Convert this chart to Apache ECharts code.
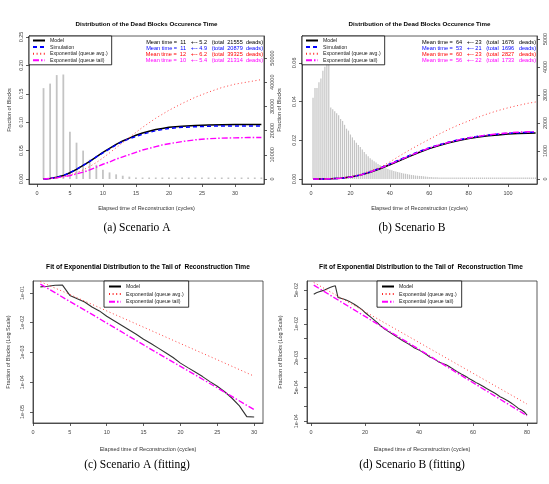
<!DOCTYPE html>
<html>
<head>
<meta charset="utf-8">
<script src="https://cdn.jsdelivr.net/npm/echarts@6/dist/echarts.min.js"></script>
<style>
html, body { margin: 0; padding: 0; background: #fff; }
#main { width: 549px; height: 484px; }
</style>
</head>
<body>
<div id="main"></div>
<script>
// ---- scenario A : model distribution (cycles 1..34)
const pmfA = [0.160, 0.168, 0.183, 0.184, 0.083, 0.064, 0.050, 0.034, 0.025, 0.0165,
  0.0116, 0.0082, 0.0058, 0.0041, 0.0028, 0.0020, 0.0014, 0.00098, 0.00068, 0.00044,
  0.00031, 0.00022, 0.000155, 0.000105, 0.000073, 0.000048, 0.000029, 0.000016, 0.000007, 0.0000068,
  0.000005, 0.000004, 0.000003, 0.000002];

// scenario A cumulative-like curves
const xA = [1, 2, 3, 4, 5, 6, 7, 8, 9, 10, 11, 12, 13, 14, 15, 16, 17, 18, 19, 20, 22, 24, 26, 28, 30, 32, 34];
const modelA = [0, 0.001, 0.003, 0.006, 0.011, 0.017, 0.024, 0.031, 0.039, 0.047, 0.054, 0.061, 0.067, 0.072, 0.077, 0.081, 0.084, 0.087, 0.089, 0.091, 0.093, 0.094, 0.095, 0.0955, 0.0958, 0.096, 0.096];
const simA = [0, 0.001, 0.003, 0.006, 0.011, 0.017, 0.024, 0.031, 0.039, 0.046, 0.053, 0.060, 0.066, 0.071, 0.075, 0.079, 0.082, 0.085, 0.087, 0.089, 0.091, 0.092, 0.093, 0.0933, 0.0935, 0.0935, 0.0935];
const avgA = [0, 0.001, 0.002, 0.004, 0.007, 0.011, 0.016, 0.022, 0.029, 0.037, 0.046, 0.055, 0.064, 0.073, 0.082, 0.091, 0.099, 0.107, 0.114, 0.121, 0.133, 0.144, 0.153, 0.161, 0.167, 0.171, 0.175];
const tailA = [0, 0.001, 0.002, 0.004, 0.006, 0.009, 0.012, 0.016, 0.021, 0.026, 0.030, 0.035, 0.039, 0.043, 0.047, 0.051, 0.054, 0.057, 0.060, 0.062, 0.066, 0.069, 0.071, 0.072, 0.0725, 0.073, 0.073];

// ---- scenario B : histogram (cycles 1..114)
const histB = [0.042, 0.047, 0.047, 0.050, 0.052, 0.056, 0.058, 0.060, 0.063, 0.037,
  0.036, 0.035, 0.034, 0.033, 0.031, 0.030, 0.028, 0.026, 0.025, 0.023,
  0.0215, 0.020, 0.0188, 0.0176, 0.0165, 0.0152, 0.014, 0.0128, 0.0117, 0.0107,
  0.0099, 0.0092, 0.0085, 0.0078, 0.0072, 0.0066, 0.0061, 0.0056, 0.0052, 0.0048,
  0.0045, 0.0042, 0.0039, 0.0036, 0.0034, 0.0031, 0.0029, 0.0027, 0.0025, 0.0023,
  0.0021, 0.0020, 0.0018, 0.0017, 0.0016, 0.0015, 0.0014, 0.0013, 0.0012, 0.0011,
  0.0010, 0.00095, 0.0009, 0.00085, 0.0008, 0.00075, 0.0007, 0.00065, 0.0006, 0.00056,
  0.00052, 0.00049, 0.00046, 0.00043, 0.0004, 0.00037, 0.00035, 0.00033, 0.00031, 0.00029,
  0.00027, 0.00025, 0.00024, 0.00022, 0.00021, 0.0002, 0.00019, 0.00018, 0.00017, 0.00016,
  0.00015, 0.00014, 0.00013, 0.00013, 0.00012, 0.00011, 0.00011, 0.0001, 0.0001, 0.00009,
  0.00009, 0.00008, 0.00008, 0.00007, 0.00007, 0.00007, 0.00006, 0.00006, 0.00006, 0.00005,
  0.00005, 0.00005, 0.00004, 0.00004];

const xB = [1, 5, 10, 15, 20, 25, 30, 35, 40, 45, 50, 55, 60, 65, 70, 75, 80, 85, 90, 95, 100, 105, 110, 114];
const modelB = [0, 0, 0.0001, 0.0004, 0.001, 0.002, 0.0035, 0.0053, 0.0074, 0.0095, 0.0117, 0.0138, 0.0157, 0.0173, 0.0187, 0.0199, 0.0209, 0.0217, 0.0223, 0.0228, 0.0232, 0.0235, 0.0237, 0.0238];
const simB = [0, 0, 0.0001, 0.0004, 0.001, 0.0021, 0.0037, 0.0056, 0.0078, 0.0100, 0.0122, 0.0143, 0.0161, 0.0177, 0.0191, 0.0203, 0.0213, 0.0221, 0.0227, 0.0232, 0.0236, 0.0239, 0.0241, 0.0242];
const avgB = [0, 0, 0.0001, 0.0005, 0.0012, 0.0024, 0.0042, 0.006, 0.0088, 0.012, 0.015, 0.0178, 0.0205, 0.0232, 0.0257, 0.028, 0.030, 0.032, 0.0338, 0.0354, 0.0368, 0.038, 0.0391, 0.0398];
const tailB = [0, 0, 0.0001, 0.0004, 0.001, 0.002, 0.0036, 0.0055, 0.0076, 0.0098, 0.0120, 0.0141, 0.0160, 0.0176, 0.0190, 0.0202, 0.0212, 0.0221, 0.0228, 0.0234, 0.0238, 0.0242, 0.0244, 0.0245];

// ---- fitting panels
const xC = [1, 5, 10, 15, 20, 25, 30];
const avgC = [0.24, 0.089, 0.025, 0.0071, 0.002, 0.00057, 0.00016];
const tailC = [0.2, 0.052, 0.0098, 0.0018, 0.00034, 0.000065, 0.000012];

const pmfB = [0.041, 0.044, 0.046, 0.048, 0.050, 0.053, 0.056, 0.059, 0.061, 0.035,
  0.0340, 0.0325, 0.031, 0.0295, 0.0275, 0.0255, 0.0235, 0.0215, 0.0195, 0.0172,
  0.0155, 0.0140, 0.0126, 0.0113, 0.0101, 0.0090, 0.0081, 0.0074, 0.0068, 0.0063,
  0.0058, 0.0053, 0.0049, 0.0045, 0.0042, 0.0039, 0.0036, 0.0033, 0.0031, 0.0029,
  0.0027, 0.0025, 0.0023, 0.0021, 0.0020, 0.00185, 0.0017, 0.0016, 0.00152, 0.00145,
  0.00135, 0.00125, 0.00115, 0.00106, 0.00098, 0.00091, 0.00085, 0.00079, 0.00073, 0.00068,
  0.00063, 0.00059, 0.00055, 0.00051, 0.00047, 0.00044, 0.00041, 0.00038, 0.00035, 0.00032,
  0.0003, 0.00028, 0.00026, 0.00024, 0.00022, 0.0002, 0.00018, 0.00017, 0.000155, 0.000134];
const xD = [1, 20, 40, 60, 80];
const avgD = [0.0716, 0.0179, 0.00417, 0.00097, 0.000226];
const tailD = [0.063, 0.0143, 0.003, 0.00062, 0.00013];

const legendNames = ['Model', 'Simulation', 'Exponential (queue avg.)', 'Exponential (queue tail)'];
const statsA = [
  ['Mean time =  11   +-- 5.2   (total  21555  deads)', '#000000'],
  ['Mean time =  11   +-- 4.9   (total  20879  deads)', '#0000ff'],
  ['Mean time =  12   +-- 6.2   (total  39325  deads)', '#ff0000'],
  ['Mean time =  10   +-- 5.4   (total  21314  deads)', '#ff00ff']
];
const statsB = [
  ['Mean time =  64   +-- 23   (total  1676   deads)', '#000000'],
  ['Mean time =  53   +-- 21   (total  1696   deads)', '#0000ff'],
  ['Mean time =  60   +-- 23   (total  2827   deads)', '#ff0000'],
  ['Mean time =  56   +-- 22   (total  1733   deads)', '#ff00ff']
];

const FONT = '"Liberation Sans", Arial, sans-serif';
const XNAME = 'Elapsed time of Reconstruction (cycles)';

const sty = {
  model: { color: '#000', width: 1.5, type: 'solid' },
  sim: { color: '#0000ff', width: 1.5, type: [4, 3] },
  avg: { color: '#ff2a2a', width: 0.9, type: [1, 2.6] },
  tail: { color: '#ff00ff', width: 1.4, type: [6, 2, 1.5, 2] },
  modelLog: { color: '#333', width: 1.1, type: 'solid' }
};

function sci(v) {
  let e = Math.floor(Math.log10(v) + 1e-9);
  let m = Math.round(v / Math.pow(10, e));
  if (m >= 10) { m = 1; e += 1; }
  const a = Math.abs(e);
  return m + 'e' + (e < 0 ? '-' : '+') + (a < 10 ? '0' : '') + a;
}

function mkAxis(o) {
  return {
    type: o.type || 'value',
    gridIndex: o.grid,
    position: o.position,
    min: o.min,
    max: o.max,
    logBase: 10,
    name: o.name || '',
    nameLocation: 'middle',
    nameGap: o.nameGap || 20,
    nameTextStyle: { fontSize: 5.5, color: '#333', fontFamily: FONT },
    axisLine: { show: true, onZero: false, lineStyle: { color: '#333', width: 0.8 } },
    axisTick: { show: true, length: 3, customValues: o.ticks, lineStyle: { color: '#333', width: 0.8 } },
    axisLabel: {
      show: true, customValues: o.labels || o.ticks, rotate: o.rotate || 0, margin: o.margin || 6,
      formatter: o.fmt, fontSize: 5.5, color: '#444', fontFamily: FONT
    },
    splitLine: { show: false },
    minorTick: { show: false }
  };
}

function line(name, xs, ys, xi, yi, ls) {
  return {
    type: 'line', name: name, xAxisIndex: xi, yAxisIndex: yi,
    data: xs.map((x, i) => [x, ys[i]]),
    symbol: 'none', showSymbol: false, z: 3,
    lineStyle: ls, itemStyle: { color: ls.color }
  };
}

function bars(vals, xi, yi, w) {
  return {
    type: 'bar', name: 'hist', xAxisIndex: xi, yAxisIndex: yi,
    data: vals.map((v, i) => [i + 1, v]),
    barWidth: w, barMinHeight: 1.5, z: 1, silent: true,
    itemStyle: { color: '#c4c4c4' }
  };
}

function legendAt(left, top, names, pad, gap) {
  return {
    left: left, top: top, orient: 'vertical', data: names,
    backgroundColor: '#fff', borderColor: '#000', borderWidth: 0.8,
    padding: pad, itemGap: gap, itemWidth: 12, itemHeight: 6,
    itemStyle: { opacity: 0 },
    textStyle: { fontSize: 5.2, color: '#222', fontFamily: FONT },
    selectedMode: false
  };
}

function txt(x, y, s, font, fill, align) {
  return {
    type: 'text', x: x, y: y, silent: true,
    style: { text: s, font: font, fill: fill || '#000', textAlign: align || 'center', textVerticalAlign: 'middle' }
  };
}

const graphics = [];
graphics.push(txt(146.5, 24, 'Distribution of the Dead Blocks Occurence Time', 'bold 6.2px ' + FONT));
graphics.push(txt(419.5, 24, 'Distribution of the Dead Blocks Occurence Time', 'bold 6.2px ' + FONT));
graphics.push(txt(148, 267, 'Fit of Exponential Distribution to the Tail of  Reconstruction Time', 'bold 6.6px ' + FONT));
graphics.push(txt(421, 267, 'Fit of Exponential Distribution to the Tail of  Reconstruction Time', 'bold 6.6px ' + FONT));
const CFONT = '11.5px "Liberation Serif", "Times New Roman", serif';
graphics.push(txt(137, 228, '(a) Scenario A', CFONT));
graphics.push(txt(412, 228, '(b) Scenario B', CFONT));
graphics.push(txt(137, 465, '(c) Scenario A (fitting)', CFONT));
graphics.push(txt(412, 465, '(d) Scenario B (fitting)', CFONT));
statsA.forEach((r, i) => graphics.push(txt(263, 42 + i * 6.2, r[0], '5.6px ' + FONT, r[1], 'right')));
statsB.forEach((r, i) => graphics.push(txt(536, 42 + i * 6.2, r[0], '5.6px ' + FONT, r[1], 'right')));

const option = {
  animation: false,
  backgroundColor: '#fff',
  grid: [
    { left: 29, top: 36, width: 235, height: 148 },
    { left: 302, top: 36, width: 235, height: 148 },
    { left: 33, top: 281, width: 230, height: 142 },
    { left: 307, top: 281, width: 230, height: 142 }
  ].map(g => Object.assign(g, { show: true, borderColor: '#333', borderWidth: 0.8, backgroundColor: 'transparent' })),
  xAxis: [
    mkAxis({ grid: 0, min: -1.2, max: 34.4, ticks: [0, 5, 10, 15, 20, 25, 30], name: XNAME, nameGap: 21 }),
    mkAxis({ grid: 1, min: -4.6, max: 114.7, ticks: [0, 20, 40, 60, 80, 100], name: XNAME, nameGap: 21 }),
    mkAxis({ grid: 2, min: 0, max: 31.2, ticks: [0, 5, 10, 15, 20, 25, 30], name: XNAME, nameGap: 23 }),
    mkAxis({ grid: 3, min: -1.5, max: 83.7, ticks: [0, 20, 40, 60, 80], name: XNAME, nameGap: 23 })
  ],
  yAxis: [
    mkAxis({ grid: 0, position: 'left', min: -0.0088, max: 0.2518, ticks: [0, 0.05, 0.1, 0.15, 0.2, 0.25],
      rotate: 90, margin: 5, fmt: v => v.toFixed(2), name: 'Fraction of Blocks', nameGap: 17 }),
    mkAxis({ grid: 0, position: 'right', min: -2066, max: 59090, ticks: [0, 10000, 20000, 30000, 40000, 50000],
      rotate: 90, margin: 5, fmt: v => String(v) }),
    mkAxis({ grid: 1, position: 'left', min: -0.00258, max: 0.0739, ticks: [0, 0.02, 0.04, 0.06],
      rotate: 90, margin: 5, fmt: v => v.toFixed(2), name: 'Fraction of Blocks', nameGap: 20 }),
    mkAxis({ grid: 1, position: 'right', min: -179, max: 5107, ticks: [0, 1000, 2000, 3000, 4000, 5000],
      rotate: 90, margin: 5, fmt: v => String(v) }),
    mkAxis({ grid: 2, type: 'log', position: 'left', min: 4.27e-6, max: 0.253, ticks: [1e-5, 1e-4, 1e-3, 1e-2, 1e-1],
      rotate: 90, margin: 8, fmt: sci, name: 'Fraction of Blocks (Log Scale)', nameGap: 22 }),
    mkAxis({ grid: 3, type: 'log', position: 'left', min: 9.2e-5, max: 0.0766,
      ticks: [1e-4, 2e-4, 5e-4, 1e-3, 2e-3, 5e-3, 1e-2, 2e-2, 5e-2], labels: [1e-4, 5e-4, 2e-3, 1e-2, 5e-2],
      rotate: 90, margin: 8, fmt: sci, name: 'Fraction of Blocks (Log Scale)', nameGap: 24 })
  ],
  legend: [
    legendAt(29, 36, legendNames, [2, 4, 2, 3], 1.6),
    legendAt(302, 36, legendNames, [2, 4, 2, 3], 1.6),
    legendAt(104, 281, ['Model', 'Exponential (queue avg.)', 'Exponential (queue tail)'], [3, 5, 3, 4], 2.6),
    legendAt(377, 281, ['Model', 'Exponential (queue avg.)', 'Exponential (queue tail)'], [3, 5, 3, 4], 2.6)
  ],
  graphic: graphics,
  series: [
    bars(pmfA, 0, 0, 1.8),
    line('Model', xA, modelA, 0, 0, sty.model),
    line('Simulation', xA, simA, 0, 0, sty.sim),
    line('Exponential (queue avg.)', xA, avgA, 0, 0, sty.avg),
    line('Exponential (queue tail)', xA, tailA, 0, 0, sty.tail),

    bars(histB, 1, 2, 1.2),
    line('Model', xB, modelB, 1, 2, sty.model),
    line('Simulation', xB, simB, 1, 2, sty.sim),
    line('Exponential (queue avg.)', xB, avgB, 1, 2, sty.avg),
    line('Exponential (queue tail)', xB, tailB, 1, 2, sty.tail),

    line('Model', pmfA.slice(0, 30).map((v, i) => i + 1), pmfA.slice(0, 30), 2, 4, sty.modelLog),
    line('Exponential (queue avg.)', xC, avgC, 2, 4, sty.avg),
    line('Exponential (queue tail)', xC, tailC, 2, 4, sty.tail),

    line('Model', pmfB.map((v, i) => i + 1), pmfB, 3, 5, sty.modelLog),
    line('Exponential (queue avg.)', xD, avgD, 3, 5, sty.avg),
    line('Exponential (queue tail)', xD, tailD, 3, 5, sty.tail)
  ]
};

const chart = echarts.init(document.getElementById('main'), null, { renderer: 'canvas' });
chart.setOption(option);
</script>
</body>
</html>
